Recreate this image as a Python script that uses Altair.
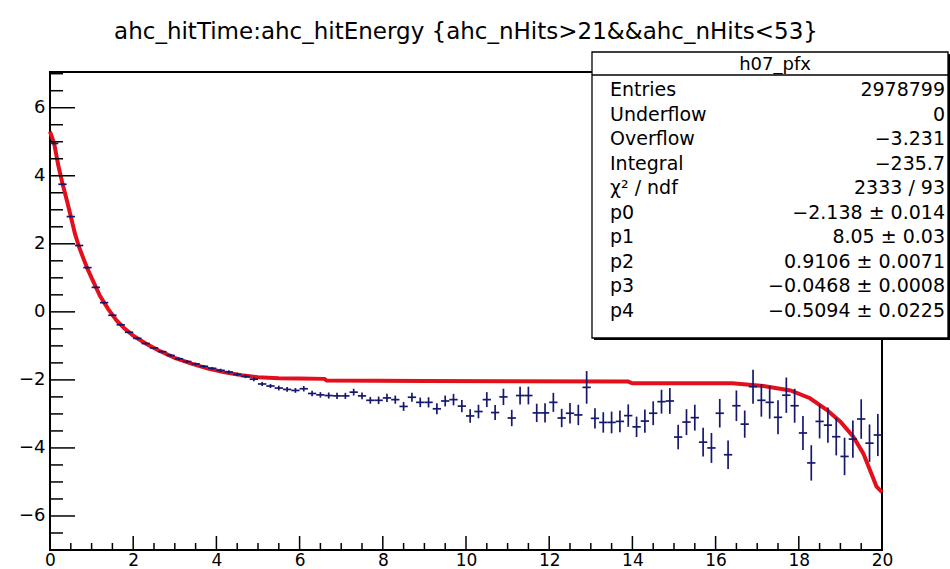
import altair as alt
import numpy as np
import pandas as pd

# Profile histogram h07_pfx: 100 bins over [0, 20]
n_bins = 100
x_min, x_max = 0.0, 20.0

profile_mean = [
    4.95, 3.75, 2.80, 1.95, 1.30, 0.72, 0.27, -0.10, -0.38, -0.60,
    -0.78, -0.93, -1.06, -1.17, -1.28, -1.38, -1.46, -1.53, -1.60, -1.66,
    -1.72, -1.77, -1.84, -1.90, -1.98, -2.12, -2.18, -2.24, -2.28, -2.31,
    -2.26, -2.40, -2.44, -2.46, -2.47, -2.47, -2.36, -2.47, -2.60, -2.60,
    -2.53, -2.58, -2.78, -2.51, -2.66, -2.66, -2.85, -2.62, -2.58, -2.77,
    -3.06, -2.93, -2.58, -2.96, -2.50, -3.12, -2.46, -2.46, -2.97, -2.97,
    -2.66, -3.12, -2.98, -3.03, -2.22, -3.13, -3.25, -3.25, -3.22, -3.05,
    -3.38, -3.21, -2.98, -2.64, -2.62, -3.68, -3.24, -3.11, -3.83, -4.00,
    -2.98, -4.20, -2.76, -3.30, -2.20, -2.60, -2.66, -3.10, -2.45, -2.76,
    -3.56, -4.44, -3.22, -3.33, -3.67, -4.25, -3.74, -3.15, -3.86, -3.62,
]

profile_err = [
    0.03, 0.03, 0.03, 0.03, 0.03, 0.03, 0.03, 0.03, 0.03, 0.03,
    0.03, 0.03, 0.03, 0.03, 0.04, 0.04, 0.04, 0.04, 0.04, 0.04,
    0.05, 0.05, 0.05, 0.05, 0.06, 0.06, 0.06, 0.07, 0.07, 0.07,
    0.08, 0.08, 0.08, 0.09, 0.09, 0.09, 0.10, 0.10, 0.10, 0.11,
    0.12, 0.12, 0.13, 0.13, 0.14, 0.15, 0.16, 0.16, 0.17, 0.18,
    0.20, 0.20, 0.22, 0.22, 0.24, 0.24, 0.26, 0.26, 0.27, 0.28,
    0.28, 0.27, 0.30, 0.30, 0.48, 0.30, 0.30, 0.32, 0.32, 0.33,
    0.30, 0.34, 0.35, 0.35, 0.38, 0.36, 0.38, 0.38, 0.42, 0.44,
    0.42, 0.42, 0.45, 0.40, 0.50, 0.48, 0.48, 0.50, 0.52, 0.50,
    0.50, 0.52, 0.50, 0.52, 0.55, 0.55, 0.55, 0.58, 0.55, 0.62,
]

# Fitted function, sampled along x
fit_x = [0.0, 0.1, 0.2, 0.3, 0.4, 0.5, 0.6, 0.7, 0.8, 0.9, 1.0, 1.2, 1.4, 1.6,
         1.8, 2.0, 2.3, 2.6, 3.0, 3.4, 3.8, 4.2, 4.6, 5.0, 5.5, 6.0, 6.6, 6.65,
         9.0, 11.0, 13.9, 14.0, 16.4, 17.15, 17.8, 18.27, 18.67, 19.0, 19.31,
         19.55, 19.71, 19.87, 20.0]
fit_y = [5.30, 4.95, 4.30, 3.77, 3.30, 2.80, 2.30, 1.90, 1.58, 1.27, 1.00, 0.47,
         0.08, -0.25, -0.50, -0.70, -0.93, -1.13, -1.35, -1.52, -1.67, -1.78,
         -1.86, -1.92, -1.95, -1.96, -1.97, -2.02, -2.03, -2.04, -2.05, -2.10,
         -2.10, -2.18, -2.31, -2.54, -2.88, -3.23, -3.67, -4.16, -4.65, -5.14,
         -5.30]

# Statistics box
stats_name = "h07_pfx"
stat_labels = ["Entries", "Underflow", "Overflow", "Integral", "χ² / ndf",
               "p0", "p1", "p2", "p3", "p4"]
stat_values = ["2978799", "0", "−3.231", "−235.7", "2333 / 93",
               "−2.138 ± 0.014", "8.05 ± 0.03", "0.9106 ± 0.0071",
               "−0.0468 ± 0.0008", "−0.5094 ± 0.0225"]

x_major = [0, 2, 4, 6, 8, 10, 12, 14, 16, 18, 20]
y_major = [-6, -4, -2, 0, 2, 4, 6]

title_text = "ahc_hitTime:ahc_hitEnergy {ahc_nHits>21&&ahc_nHits<53}"

W, H = 832, 478
FONT = "DejaVu Sans"
NAVY = "#16186e"
RED = "#e3101c"

edges = np.linspace(x_min, x_max, n_bins + 1)
prof = pd.DataFrame({
    "lo": edges[:-1],
    "hi": edges[1:],
    "mean": profile_mean,
    "err": profile_err,
})
prof["center"] = (prof["lo"] + prof["hi"]) / 2
prof["ylo"] = prof["mean"] - prof["err"]
prof["yhi"] = prof["mean"] + prof["err"]

fit = pd.DataFrame({"x": fit_x, "y": fit_y})

xs = alt.Scale(domain=[x_min, x_max], nice=False, zero=False)
ys = alt.Scale(domain=[-7.0, 7.05], nice=False, zero=False)

x_axis = alt.Axis(values=x_major, ticks=False, domain=False, grid=False,
                  labelFontSize=17, labelFont=FONT, labelColor="black",
                  labelPadding=2, labelFlush=False, title=None)
y_axis = alt.Axis(values=y_major, ticks=False, domain=False, grid=False,
                  labelFontSize=18, labelFont=FONT, labelColor="black",
                  labelPadding=5, title=None)

# Fit curve
curve = alt.Chart(fit).mark_line(color=RED, strokeWidth=4).encode(
    x=alt.X("x:Q", scale=xs, axis=x_axis),
    y=alt.Y("y:Q", scale=ys, axis=y_axis),
)

# Error bars of the profile (vertical: error on mean, horizontal: bin width)
vbars = alt.Chart(prof).mark_rule(color=NAVY, strokeWidth=1.7).encode(
    x=alt.X("center:Q", scale=xs),
    y=alt.Y("ylo:Q", scale=ys),
    y2="yhi:Q",
)
hbars = alt.Chart(prof).mark_rule(color=NAVY, strokeWidth=1.7).encode(
    x=alt.X("lo:Q", scale=xs),
    x2="hi:Q",
    y=alt.Y("mean:Q", scale=ys),
)

# Inward tick marks on the left and bottom frame edges
y_minor = [v for v in np.arange(-6.5, 7.01, 0.5) if v not in y_major]
x_minor = [v for v in np.arange(0.5, 20.0, 0.5) if v not in x_major]

yt_major = alt.Chart(pd.DataFrame({"v": y_major})).mark_rule(
    color="black", strokeWidth=1.5).encode(
    y=alt.Y("v:Q", scale=ys), x=alt.value(0), x2=alt.value(25))
yt_minor = alt.Chart(pd.DataFrame({"v": y_minor})).mark_rule(
    color="black", strokeWidth=1.5).encode(
    y=alt.Y("v:Q", scale=ys), x=alt.value(0), x2=alt.value(13))
xt_major = alt.Chart(pd.DataFrame({"v": x_major})).mark_rule(
    color="black", strokeWidth=1.5).encode(
    x=alt.X("v:Q", scale=xs), y=alt.value(H), y2=alt.value(H - 14))
xt_minor = alt.Chart(pd.DataFrame({"v": x_minor})).mark_rule(
    color="black", strokeWidth=1.5).encode(
    x=alt.X("v:Q", scale=xs), y=alt.value(H), y2=alt.value(H - 7))

# Statistics box
one = pd.DataFrame({"k": [0]})
box_left, box_right, box_top, box_bottom = 542, 898, -20, 266
shadow = alt.Chart(one).mark_rect(color="black").encode(
    x=alt.value(box_left + 2), x2=alt.value(box_right + 2),
    y=alt.value(box_top + 2), y2=alt.value(box_bottom + 2))
box = alt.Chart(one).mark_rect(fill="white", stroke="black", strokeWidth=1.3).encode(
    x=alt.value(box_left), x2=alt.value(box_right),
    y=alt.value(box_top), y2=alt.value(box_bottom))
header_line = alt.Chart(one).mark_rule(color="black", strokeWidth=1.3).encode(
    x=alt.value(box_left), x2=alt.value(box_right), y=alt.value(3))
header = alt.Chart(pd.DataFrame({"t": [stats_name]})).mark_text(
    font=FONT, fontSize=18, align="center", baseline="middle", color="black").encode(
    text="t:N", x=alt.value((box_left + box_right) / 2 + 5), y=alt.value(-7))

stats = pd.DataFrame({"label": stat_labels, "value": stat_values})
stats["row"] = range(len(stats))
stat_base = alt.Chart(stats).transform_calculate(ypix="18 + 24.5 * datum.row")
stat_lab = stat_base.mark_text(font=FONT, fontSize=19, align="left",
                               baseline="middle", color="black").encode(
    text="label:N", x=alt.value(560), y=alt.Y("ypix:Q", scale=None))
stat_val = stat_base.mark_text(font=FONT, fontSize=19, align="right",
                               baseline="middle", color="black").encode(
    text="value:N", x=alt.value(895), y=alt.Y("ypix:Q", scale=None))

chart = alt.layer(
    curve, vbars, hbars, yt_major, yt_minor, xt_major, xt_minor,
    shadow, box, header_line, header, stat_lab, stat_val,
).properties(
    width=W, height=H,
    autosize=alt.AutoSizeParams(type="none"),
    padding={"left": 50, "top": 72, "right": 68, "bottom": 19},
    title=alt.TitleParams(title_text, font=FONT, fontSize=23, fontWeight="normal",
                          anchor="middle", frame="group", offset=7,
                          color="black"),
    background="white",
).configure_view(stroke="black", strokeWidth=2)

chart.save("out.html", embed_options={"renderer": "svg", "actions": False})
